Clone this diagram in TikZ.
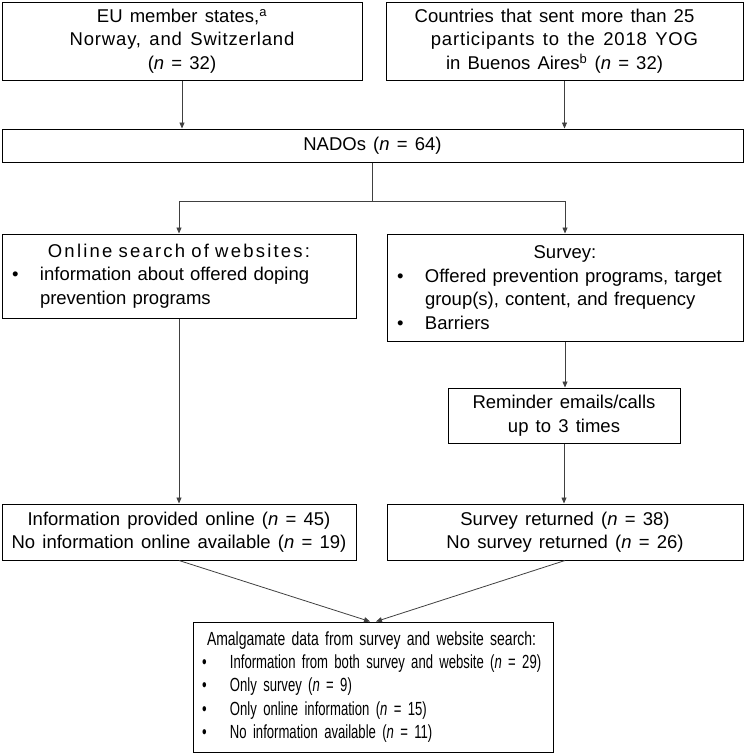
\documentclass[tikz,border=0pt]{standalone}
\usepackage{fontspec}
\setmainfont{Liberation Sans}[WordSpace={1.4}]
\newfontfamily\lsfont{Liberation Sans}[LetterSpace=12, WordSpace={1.4}]
\newfontfamily\lsb{Liberation Sans}[LetterSpace=4.5, WordSpace={1.4}]
\newfontfamily\condfont{Liberation Sans}[FakeStretch=0.69]
\newfontfamily\condhead{Liberation Sans}[FakeStretch=0.735]
\usetikzlibrary{arrows.meta}
\newcommand\fs{\fontsize{18.5}{23.5}\selectfont}
\newcommand\bitem[1]{\par\hangindent=38pt\hangafter=1\noindent\hspace*{10pt}\makebox[28pt][l]{\textbullet}#1\par}
\newcommand\citem[1]{\par\noindent\hspace*{9pt}\makebox[28pt][l]{\textbullet}\mbox{#1}\par}
\tikzset{
  box/.style={draw=black, line width=1pt, inner sep=0pt, font=\fs, align=center},
  lbox/.style={draw=black, line width=1pt, inner sep=0pt, font=\fs},
  arr/.style={draw=black!75, line width=0.8pt, -{Triangle[length=6pt,width=5pt]}},
  ln/.style={draw=black!75, line width=0.8pt}
}
\begin{document}
\begin{tikzpicture}[x=1pt,y=-1pt]
\useasboundingbox (0,0) rectangle (745,755);
\node[box, minimum width=360pt, minimum height=78pt] (eu) at (182,41)
  {EU member states,\textsuperscript{a}\\{\lsb Norway, and Switzerland}\\(\textit{n} = 32)};
\node[box, minimum width=357pt, minimum height=78pt] (cty) at (564.5,41)
  {Countries that sent more than 25\hspace*{20pt}\\{\lsb participants to the 2018 YOG}\hspace*{20pt}\\in Buenos Aires\textsuperscript{b} (\textit{n} = 32)\hspace*{20pt}};
\node[box, minimum width=741pt, minimum height=33pt] (nado) at (372.5,145.5)
  {NADOs (\textit{n} = 64)};
\node[lbox, text width=354pt, minimum height=84pt] (online) at (179,276)
  {\raggedright{\centering\lsfont Online search of websites:\par}%
   \bitem{information about offered doping\newline prevention programs}};
\node[lbox, text width=356pt, minimum height=107pt] (survey) at (565,287.5)
  {\raggedright{\centering Survey:\par}%
   \bitem{Offered prevention programs, target\newline group(s), content, and frequency}%
   \bitem{Barriers}};
\node[box, minimum width=232pt, minimum height=55pt] (rem) at (564,415.5)
  {Reminder emails/calls\\up to 3 times};
\node[box, minimum width=354pt, minimum height=56pt] (onres) at (179,532)
  {Information provided online (\textit{n} = 45)\\No information online available (\textit{n} = 19)};
\node[box, minimum width=356pt, minimum height=56pt] (surres) at (565,532)
  {Survey returned (\textit{n} = 38)\\No survey returned (\textit{n} = 26)};
\node[lbox, text width=360pt, minimum height=130pt, font=\fontsize{19}{23.3}\selectfont\condfont] (amal) at (373,687)
  {\raggedright\noindent\hspace*{14pt}\mbox{\condhead Amalgamate data from survey and website search:}\par
   \citem{Information from both survey and website (\textit{n} = 29)}%
   \citem{Only survey (\textit{n} = 9)}%
   \citem{Only online information (\textit{n} = 15)}%
   \citem{No information available (\textit{n} = 11)}};
\coordinate (jy) at (0,201);
\draw[arr] (eu.south) -- (eu.south |- nado.north);
\draw[arr] (cty.south) -- (cty.south |- nado.north);
\draw[ln] (nado.south) -- (nado.south |- jy);
\draw[arr] (nado.south |- jy) -| (online.north);
\draw[arr] (nado.south |- jy) -| (survey.north);
\draw[arr] (online.south) -- (online.south |- onres.north);
\draw[arr] (survey.south) -- (survey.south |- rem.north);
\draw[arr] (rem.south) -- (rem.south |- surres.north);
\draw[arr] (onres.south) -- ([xshift=-3pt]amal.north);
\draw[arr] (surres.south) -- ([xshift=3pt]amal.north);
\end{tikzpicture}
\end{document}
